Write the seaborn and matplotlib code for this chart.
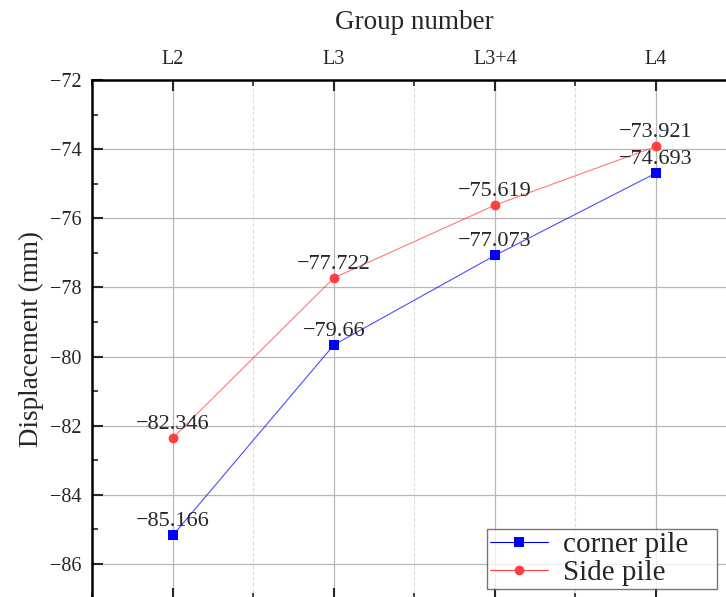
import matplotlib
matplotlib.use("Agg")
import matplotlib.pyplot as plt
from matplotlib.lines import Line2D
from matplotlib.ticker import MultipleLocator
import numpy as np
import pandas as pd
import seaborn as sns

# datos
groups = ["L2", "L3", "L3+4", "L4"]
corner_pile = [-85.166, -79.66, -77.073, -74.693]
side_pile = [-82.346, -77.722, -75.619, -73.921]
corner_labels = ["-85.166", "-79.66", "-77.073", "-74.693"]
side_labels = ["-82.346", "-77.722", "-75.619", "-73.921"]

sns.set_style("white")
plt.rcParams['font.family'] = ['Liberation Serif', 'DejaVu Serif']
plt.rcParams['axes.unicode_minus'] = True

df = pd.DataFrame({
    "pos": np.arange(len(groups)),
    "corner": corner_pile,
    "side": side_pile,
})

fig = plt.figure(figsize=(7.26, 5.97), dpi=100)
ax = fig.add_axes([0.1274, -0.0027, 0.887, 0.8687])

blue = "#0000ff"
red = "#ff4040"

# lineas
sns.lineplot(data=df, x="pos", y="corner", color=blue, lw=0.8, alpha=0.7, ax=ax)
sns.lineplot(data=df, x="pos", y="side", color=red, lw=0.8, alpha=0.7, ax=ax)
# marcadores
sns.scatterplot(data=df, x="pos", y="corner", color=blue, marker="s", s=45,
                edgecolor=blue, linewidth=0, ax=ax, zorder=5)
sns.scatterplot(data=df, x="pos", y="side", color=red, marker="o", s=50,
                edgecolor=red, linewidth=0, ax=ax, zorder=5)

# etiquetas de datos
for x, y, t in zip(df["pos"], corner_pile, corner_labels):
    ax.annotate(t.replace("-", "\u2212"), (x, y), xytext=(0, 3), textcoords="offset points",
                ha="center", va="bottom", fontsize=16)
for x, y, t in zip(df["pos"], side_pile, side_labels):
    ax.annotate(t.replace("-", "\u2212"), (x, y), xytext=(0, 3), textcoords="offset points",
                ha="center", va="bottom", fontsize=16)

ax.set_xlim(-0.5, 3.5)
ax.set_ylim(-87, -72)
ax.set_xticks(df["pos"])
ax.set_xticklabels(groups)
ax.xaxis.set_minor_locator(MultipleLocator(0.5))
ax.yaxis.set_major_locator(MultipleLocator(2))
ax.yaxis.set_minor_locator(MultipleLocator(1))

ax.xaxis.tick_top()
ax.xaxis.set_label_position("top")
ax.tick_params(axis="x", which="both", top=True, bottom=True, labeltop=True, labelbottom=False)
ax.tick_params(axis="both", which="major", direction="in", length=8, width=1.5, labelsize=14.5, pad=8)
ax.tick_params(axis="both", which="minor", direction="in", length=4, width=1.2)
ax.tick_params(axis="y", which="both", left=True, right=False)

ax.set_xlabel("Group number", fontsize=19.5, labelpad=15)
ax.set_ylabel("Displacement (mm)", fontsize=19.5, labelpad=4)

ax.grid(True, which="major", color="#b8b8b8", lw=0.9)
ax.grid(True, which="minor", axis="x", color="#dddddd", lw=0.8, ls="--")
ax.set_axisbelow(True)

for s in ax.spines.values():
    s.set_linewidth(1.8)
    s.set_color("black")

handles = [
    Line2D([], [], color=blue, lw=0.8, marker="s", markersize=7, markeredgewidth=0),
    Line2D([], [], color=red, lw=0.8, marker="o", markersize=7, markeredgewidth=0),
]
leg = ax.legend(handles, ["corner pile", "Side pile"], loc="upper left",
                bbox_to_anchor=(487 / 726, 1 - 593 / 597, 230 / 726, 64 / 597),
                bbox_transform=fig.transFigure, mode="expand",
                fontsize=21, frameon=True,
                fancybox=False, edgecolor="#555555", handlelength=2.0,
                borderpad=0.1, labelspacing=0.05, handletextpad=0.5, borderaxespad=0)
leg.get_frame().set_linewidth(1.0)

fig.savefig("out.png", dpi=100)
